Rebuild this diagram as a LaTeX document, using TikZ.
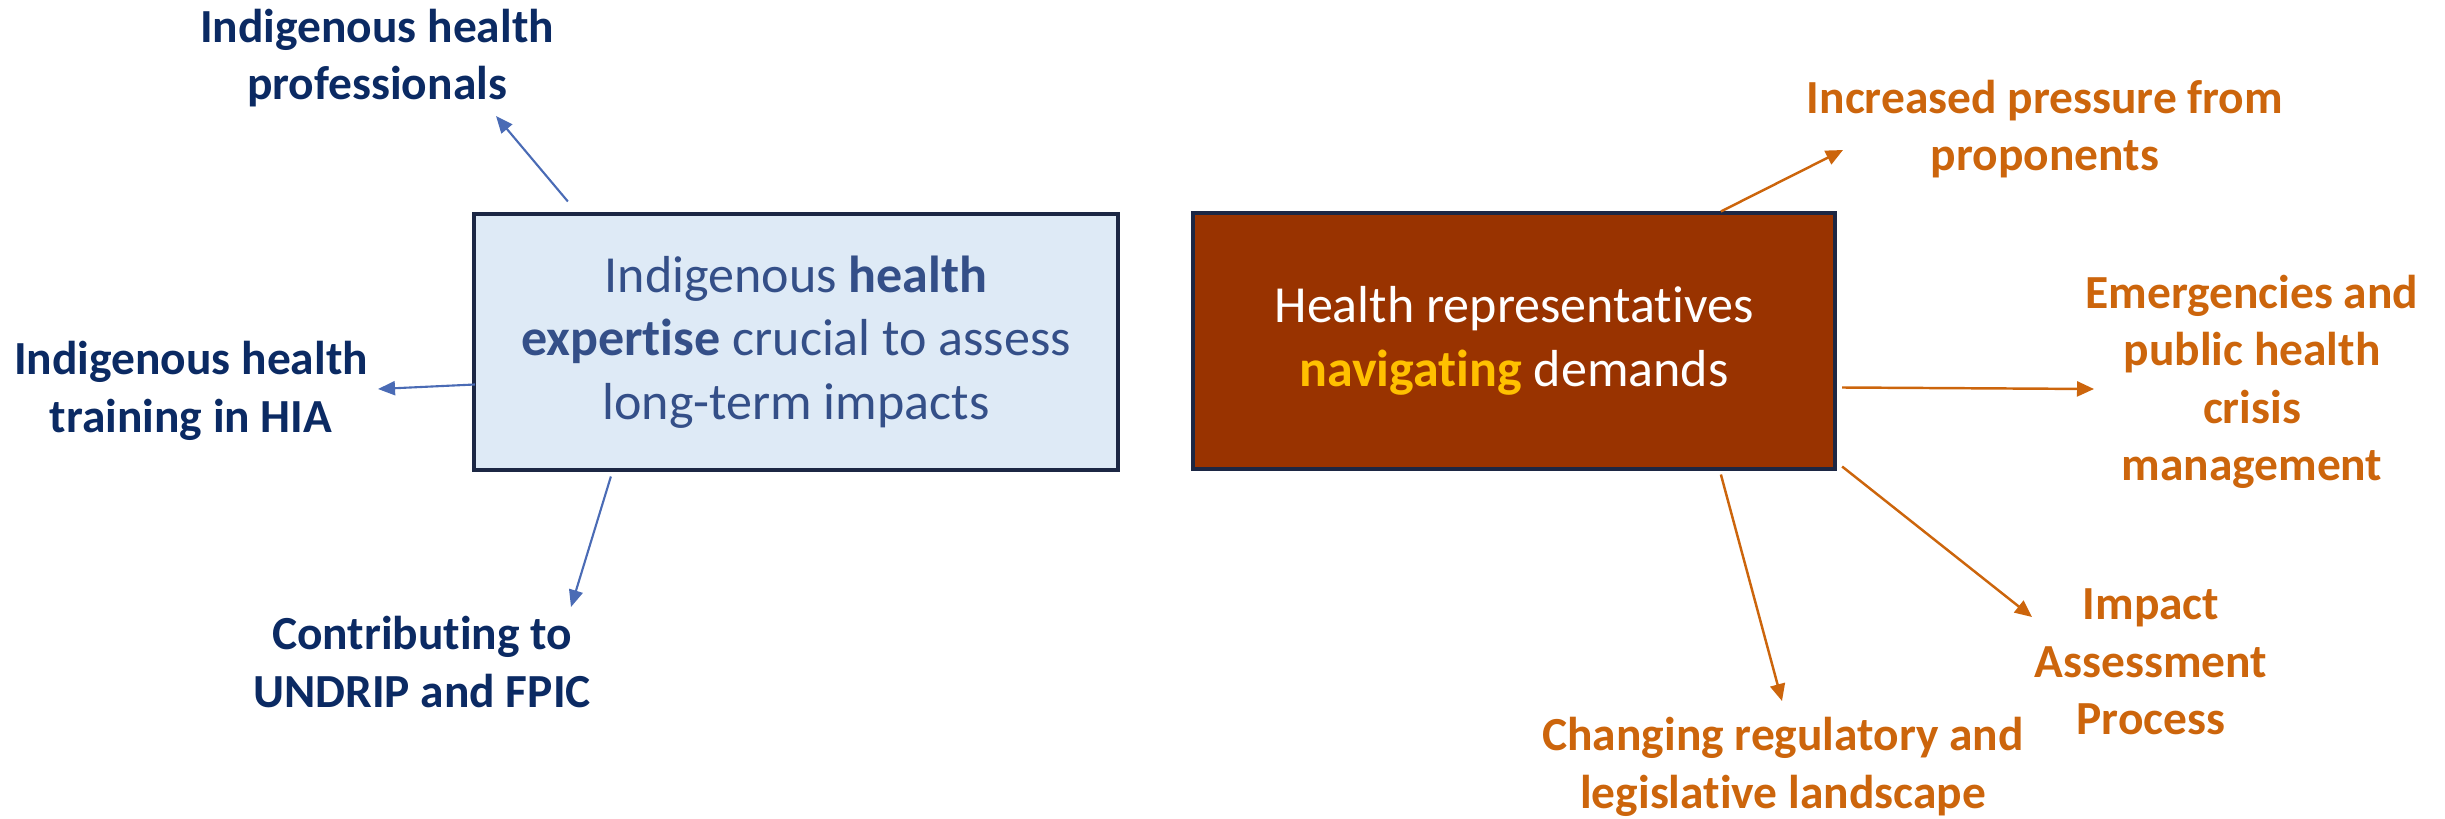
\documentclass[tikz,border=0pt]{standalone}
\usepackage{fontspec}
\setmainfont[RawFeature={-liga;-clig;-calt;-dlig}]{Carlito}
\usetikzlibrary{arrows.meta,calc}
\definecolor{labnavy}{HTML}{0B2A63}
\definecolor{ltext}{HTML}{344F88}
\definecolor{lfill}{HTML}{DEEAF6}
\definecolor{boxborder}{HTML}{1C2744}
\definecolor{lblue}{HTML}{4A6BB5}
\definecolor{rfill}{HTML}{993300}
\definecolor{orng}{HTML}{CC650C}
\definecolor{gold}{HTML}{FFC000}
\begin{document}
\begin{tikzpicture}[x=0.01cm,y=-0.01cm,
  boxL/.style={draw=boxborder, line width=1.1pt, fill=lfill, minimum width=6.44cm, minimum height=2.55cm, inner sep=0pt, align=center, text=ltext, font=\fontsize{14.8}{18.1}\selectfont},
  boxR/.style={draw=boxborder, line width=1.1pt, fill=rfill, minimum width=6.42cm, minimum height=2.55cm, inner sep=0pt, align=center, text=white, font=\fontsize{14.8}{18.1}\selectfont},
  leftlab/.style={text=labnavy, font=\bfseries\fontsize{13.5}{16.3}\selectfont, align=center, inner sep=0pt},
  rightlab/.style={text=orng, font=\bfseries\fontsize{13.5}{16.3}\selectfont, align=center, inner sep=0pt},
  blarrow/.style={draw=lblue, line width=0.6pt, -{Triangle[length=0.17cm,width=0.14cm]}},
  orarrow/.style={draw=orng, line width=0.7pt, -{Triangle[length=0.17cm,width=0.15cm]}}]
\useasboundingbox (0,0) rectangle (2445,818);

\node[boxL] (lbox) at (796,342) {Indigenous \textbf{health}\\\textbf{expertise} crucial to assess\\long-term impacts};
\node[boxR] (rbox) at (1514,341) {Health representatives\\\textcolor{gold}{\textbf{navigating}} demands};

\node[leftlab] (prof) at (377,58) {Indigenous health\\professionals};
\node[leftlab] (train) at (191,391) {Indigenous health\\training in HIA};
\node[leftlab] (contrib) at (422,662) {Contributing to\\UNDRIP and FPIC};

\node[rightlab] (incr) at (2045,129) {Increased pressure from\\proponents};
\node[rightlab] (emerg) at (2252,382) {Emergencies and\\public health\\crisis\\management};
\node[rightlab] (impact) at (2151,662) {Impact\\Assessment\\Process};
\node[rightlab] (change) at (1783,767) {Changing regulatory and\\legislative landscape};

\coordinate (tProf) at (496,116);
\coordinate (tTrain) at (378,389);
\coordinate (tContrib) at (571,607);
\coordinate (tIncr) at (1843,150);
\coordinate (tEmerg) at (2094,389);
\coordinate (tImpact) at (2032,617);
\coordinate (tChange) at (1782,701);

\draw[blarrow] ($(lbox.north west)+(96,-11)$) -- (tProf);
\draw[blarrow] ($(lbox.north west)+(3,172)$) -- (tTrain);
\draw[blarrow] ($(lbox.south west)+(139,5)$) -- (tContrib);

\draw[orarrow] ($(rbox.north west)+(530,0)$) -- (tIncr);
\draw[orarrow] ($(rbox.north east)+(5,176)$) -- (tEmerg);
\draw[orarrow] ($(rbox.south east)+(5,-4)$) -- (tImpact);
\draw[orarrow] ($(rbox.south west)+(530,4)$) -- (tChange);
\end{tikzpicture}
\end{document}
